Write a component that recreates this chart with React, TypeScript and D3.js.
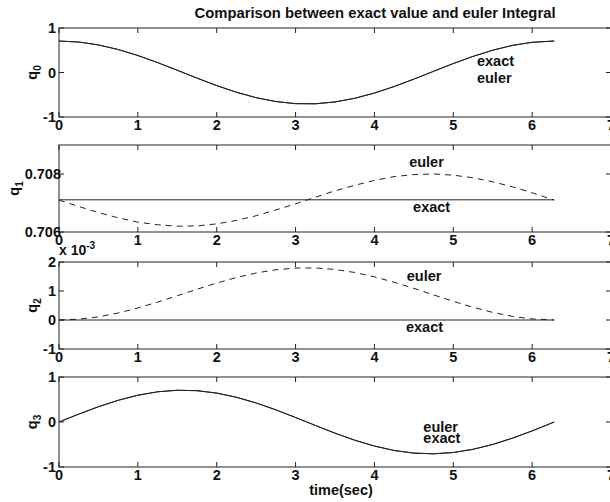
import React from "react";
import * as d3 from "d3";

// time samples (sec)
const time = [0, 0.25, 0.5, 0.75, 1, 1.25, 1.5, 1.75, 2, 2.25, 2.5, 2.75, 3, 3.25, 3.5, 3.75, 4, 4.25, 4.5, 4.75, 5, 5.25, 5.5, 5.75, 6, 6.28];

// q0 (exact and euler overlap)
const q0Exact = [0.707, 0.685, 0.62, 0.517, 0.382, 0.223, 0.05, -0.126, -0.294, -0.444, -0.566, -0.653, -0.7, -0.703, -0.662, -0.58, -0.462, -0.315, -0.149, 0.027, 0.201, 0.362, 0.501, 0.609, 0.679, 0.707];
const q0Euler = q0Exact;

// q1
const q1Exact = [0.70711, 0.70711, 0.70711, 0.70711, 0.70711, 0.70711, 0.70711, 0.70711, 0.70711, 0.70711, 0.70711, 0.70711, 0.70711, 0.70711, 0.70711, 0.70711, 0.70711, 0.70711, 0.70711, 0.70711, 0.70711, 0.70711, 0.70711, 0.70711, 0.70711, 0.70711];
const q1Euler = [0.7071, 0.70688, 0.70667, 0.70649, 0.70634, 0.70625, 0.7062, 0.70621, 0.70628, 0.7064, 0.70656, 0.70676, 0.70697, 0.7072, 0.70742, 0.70761, 0.70778, 0.70791, 0.70798, 0.708, 0.70796, 0.70787, 0.70773, 0.70756, 0.70735, 0.7071];

// q2 (x 10^-3)
const q2Exact = [0, 0, 0, 0, 0, 0, 0, 0, 0, 0, 0, 0, 0, 0, 0, 0, 0, 0, 0, 0, 0, 0, 0, 0, 0, 0];
const q2Euler = [0, 0.028, 0.11, 0.241, 0.414, 0.616, 0.836, 1.06, 1.274, 1.465, 1.621, 1.732, 1.791, 1.795, 1.743, 1.639, 1.488, 1.301, 1.09, 0.866, 0.645, 0.439, 0.262, 0.125, 0.036, 0];

// q3 (exact and euler overlap)
const q3Exact = [0, 0.175, 0.339, 0.482, 0.595, 0.671, 0.705, 0.696, 0.643, 0.55, 0.423, 0.27, 0.1, -0.076, -0.248, -0.404, -0.535, -0.633, -0.691, -0.707, -0.678, -0.607, -0.499, -0.359, -0.198, 0];
const q3Euler = q3Exact;

const xTicks = [0, 1, 2, 3, 4, 5, 6, 7];
const xDomain = [0, 7];

const title = "Comparison between exact value and euler Integral";
const xLabel = "time(sec)";

const panels = [
  { name: "0", domain: [-1, 1], ticks: [-1, 0, 1], tickLabels: ["-1", "0", "1"], exact: q0Exact, euler: q0Euler, eulerDashed: false,
    notes: [{ text: "exact", t: 5.3, v: 0.135 }, { text: "euler", t: 5.3, v: -0.225 }], top: 28, bottom: 117, labX: 37, tickX: 56 },
  { name: "1", domain: [0.706, 0.709], ticks: [0.706, 0.708], tickLabels: ["0.706", "0.708"], exact: q1Exact, euler: q1Euler, eulerDashed: true,
    notes: [{ text: "euler", t: 4.44, v: 0.70824 }, { text: "exact", t: 4.49, v: 0.70669 }], top: 145, bottom: 232, labX: 19, tickX: 61 },
  { name: "2", domain: [-1, 2], ticks: [-1, 0, 1, 2], tickLabels: ["-1", "0", "1", "2"], exact: q2Exact, euler: q2Euler, eulerDashed: true,
    notes: [{ text: "euler", t: 4.41, v: 1.345 }, { text: "exact", t: 4.4, v: -0.41 }], top: 262, bottom: 349, labX: 37, tickX: 56 },
  { name: "3", domain: [-1, 1], ticks: [-1, 0, 1], tickLabels: ["-1", "0", "1"], exact: q3Exact, euler: q3Euler, eulerDashed: false,
    notes: [{ text: "euler", t: 4.62, v: -0.222 }, { text: "exact", t: 4.62, v: -0.467 }], top: 377, bottom: 467, labX: 37, tickX: 56 },
];

const FONT = "'Liberation Sans', Arial, Helvetica, sans-serif";

export default function App() {
  const W = 610, H = 502;
  const left = 59, right = 611;
  const x = d3.scaleLinear().domain(xDomain).range([left, right]);
  const tickLen = 5;

  return (
    <svg width={W} height={H} style={{ position: "absolute", left: 0, top: 0, background: "#fff" }} fontFamily={FONT}>
      <rect x={0} y={0} width={W} height={H} fill="#fff" />
      {panels.map((p, pi) => {
        const y = d3.scaleLinear().domain(p.domain).range([p.bottom, p.top]);
        const line = d3.line<number>().x((_, i) => x(time[i])).y((d) => y(d));
        const midY = (p.top + p.bottom) / 2;
        return (
          <g key={pi}>
            <rect x={left} y={p.top} width={right - left} height={p.bottom - p.top} fill="none" stroke="#222" strokeWidth={1} />
            {xTicks.map((t) => (
              <g key={"xt" + t}>
                <line x1={x(t)} x2={x(t)} y1={p.bottom} y2={p.bottom - tickLen} stroke="#222" />
                <line x1={x(t)} x2={x(t)} y1={p.top} y2={p.top + tickLen} stroke="#222" />
                <text x={x(t)} y={p.bottom + 13} textAnchor="middle" fontSize={14.5} fontWeight="bold" fill="#111">{t}</text>
              </g>
            ))}
            {p.ticks.map((v, i) => (
              <g key={"yt" + i}>
                <line x1={left} x2={left + tickLen} y1={y(v)} y2={y(v)} stroke="#222" />
                <line x1={right} x2={right - tickLen} y1={y(v)} y2={y(v)} stroke="#222" />
                <text x={p.tickX} y={y(v)} dy="0.36em" textAnchor="end" fontSize={14.5} fontWeight="bold" fill="#111">{p.tickLabels[i]}</text>
              </g>
            ))}
            <text transform={`translate(${p.labX},${midY}) rotate(-90)`} textAnchor="middle" fontSize={14.5} fontWeight="bold" fill="#111">
              q<tspan fontSize={10} dy={4}>{p.name}</tspan>
            </text>
            <path d={line(p.exact) || ""} fill="none" stroke="#222" strokeWidth={1} />
            <path d={line(p.euler) || ""} fill="none" stroke="#222" strokeWidth={1} strokeDasharray={p.eulerDashed ? "6,5" : undefined} />
            {p.notes.map((n, i) => (
              <text key={"n" + i} x={x(n.t)} y={y(n.v)} fontSize={14.5} fontWeight="bold" fill="#111">{n.text}</text>
            ))}
            {p.name === "2" && (
              <text x={left} y={255} fontSize={14} fontWeight="bold" fill="#111">
                x 10<tspan fontSize={10} dy={-6}>-3</tspan>
              </text>
            )}
          </g>
        );
      })}
      <text x={375} y={18} textAnchor="middle" fontSize={14.8} fontWeight="bold" fill="#111">{title}</text>
      <text x={341} y={495} textAnchor="middle" fontSize={14.5} fontWeight="bold" fill="#111">{xLabel}</text>
    </svg>
  );
}
